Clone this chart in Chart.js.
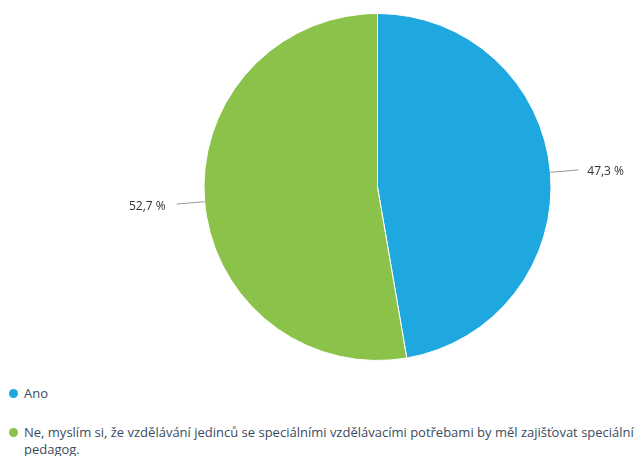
<!DOCTYPE html>
<html>
<head>
<meta charset="utf-8">
<script src="https://cdn.jsdelivr.net/npm/chart.js@4"></script>
<style>
  html, body { margin: 0; padding: 0; background: #fff; overflow: hidden; }
  body { width: 641px; height: 456px; position: relative; font-family: "Open Sans", sans-serif; }
  #wrap { position: absolute; left: 0; top: 0; width: 641px; height: 374px; }
  #legend { position: absolute; left: 0; top: 385px; width: 641px; margin: 0; padding: 0; list-style: none; }
  #legend li { position: relative; padding-left: 24px; font-size: 13px; line-height: 17px; color: #3b4b5e; margin-bottom: 22px; width: 617px; }
  #legend li span { position: absolute; left: 9px; top: 4px; width: 9px; height: 9px; border-radius: 50%; }
</style>
</head>
<body>
<div id="wrap"><canvas id="pieChart"></canvas></div>
<ul id="legend"></ul>
<script>
const labels = ['Ano', 'Ne, myslím si, že vzdělávání jedinců se speciálními vzdělávacími potřebami by měl zajišťovat speciální pedagog.'];
const values = [47.3, 52.7];
const colors = ['#1fa8e0', '#8bc34a'];

// value labels with short leader lines outside the slices
const outsideLabels = {
  id: 'outsideLabels',
  afterDatasetsDraw(chart) {
    const ctx = chart.ctx;
    const meta = chart.getDatasetMeta(0);
    ctx.save();
    ctx.font = '12px "Open Sans", sans-serif';
    ctx.fillStyle = '#333';
    ctx.strokeStyle = '#999';
    ctx.lineWidth = 1;
    ctx.textBaseline = 'middle';
    meta.data.forEach((arc, i) => {
      const p = arc.getProps(['x', 'y', 'startAngle', 'endAngle', 'outerRadius'], true);
      const a = (p.startAngle + p.endAngle) / 2;
      const x1 = p.x + Math.cos(a) * p.outerRadius;
      const y1 = p.y + Math.sin(a) * p.outerRadius;
      const x2 = p.x + Math.cos(a) * (p.outerRadius + 28);
      const y2 = p.y + Math.sin(a) * (p.outerRadius + 28);
      const right = Math.cos(a) >= 0;
      ctx.beginPath();
      ctx.moveTo(x1, y1);
      ctx.lineTo(x2, y2);
      ctx.stroke();
      const text = values[i].toFixed(1).replace('.', ',') + ' %';
      ctx.textAlign = right ? 'left' : 'right';
      ctx.fillText(text, x2 + (right ? 9 : -11), y2 + (right ? 2 : 3));
    });
    ctx.restore();
  }
};

new Chart(document.getElementById('pieChart'), {
  type: 'pie',
  data: {
    labels: labels,
    datasets: [{
      data: values,
      backgroundColor: colors,
      borderColor: '#fff',
      borderWidth: 1
    }]
  },
  options: {
    responsive: true,
    maintainAspectRatio: false,
    animation: false,
    layout: { padding: { left: 114, right: 0, top: 13, bottom: 13 } },
    plugins: {
      legend: { display: false },
      tooltip: { enabled: false }
    }
  },
  plugins: [outsideLabels]
});

const legend = document.getElementById('legend');
labels.forEach((l, i) => {
  const li = document.createElement('li');
  li.innerHTML = '<span style="background:' + colors[i] + '"></span>' + l;
  legend.appendChild(li);
});
</script>
</body>
</html>
